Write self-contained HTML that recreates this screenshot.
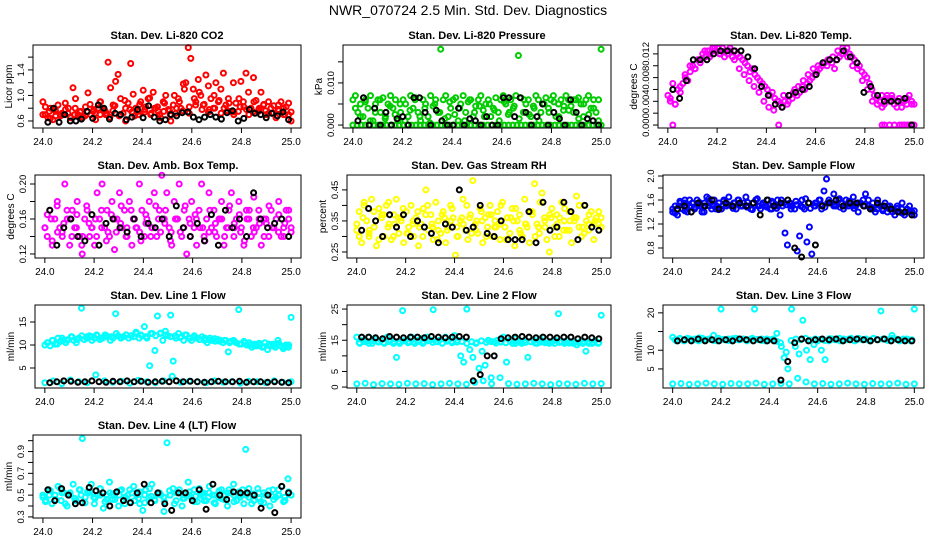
<!DOCTYPE html>
<html><head><meta charset="utf-8"><style>
body{margin:0;background:#fff}
svg{display:block;font-family:"Liberation Sans",Arial,sans-serif}
</style></head><body>
<svg id="chart" width="936" height="540" viewBox="0 0 936 540">
<text x="468" y="15" text-anchor="middle" font-size="14">NWR_070724  2.5 Min. Std. Dev. Diagnostics</text>
</svg>
<script>
const xTicks=[24.0,24.2,24.4,24.6,24.8,25.0];
const xTickLabels=["24.0","24.2","24.4","24.6","24.8","25.0"];

const p1A=[0.9,0.7,0.65,0.8,0.62,0.75,0.85,0.68,0.7,0.78,0.72,0.65,1.12,0.95,0.7,0.75,0.66,0.82,1.04,0.7,0.75,0.62,0.8,0.9,0.78,0.7,1.52,1.12,0.85,1.22,1.33,0.95,0.72,0.6,0.88,1.5,1.02,0.8,0.75,0.9,1.08,0.82,0.95,0.7,1.05,0.8,0.75,0.65,0.9,1.0,0.78,0.6,0.85,0.72,0.95,0.8,1.18,1.2,1.75,1.58,1.1,0.9,1.25,1.0,0.85,1.32,1.15,0.95,0.8,1.2,0.9,1.1,1.35,0.85,0.95,0.75,1.2,0.88,0.75,1.22,0.9,1.35,1.05,0.8,1.28,0.92,0.75,1.05,0.85,0.7,0.9,0.8,0.72,0.65,0.85,0.9,0.7,0.82,0.88,0.6];
const p1B=[0.7,0.75,0.68,0.72,0.8,0.7,0.66,0.74,0.78,0.7,0.72,0.76,0.68,0.8,0.74,0.7,0.78,0.72,0.82,0.75,0.7,0.8,0.76,0.72,0.85,0.78,0.74,0.8,0.72,0.76,0.7,0.82,0.78,0.74,0.8,0.76,0.72,0.78,0.7,0.74];
const p1C=[0.82,0.64,0.78,0.7,0.88,0.66,0.8,0.74,0.68,0.86,0.72,0.9,0.76,0.66,0.84,0.7,0.92,0.78,0.68,0.86,0.74,0.96,0.8,0.7,0.88,0.76,1.0,0.9,1.1,0.82,0.95,1.05,0.86,0.78,1.0,0.92,0.8,0.88,0.74,0.95,0.82,0.7,0.9,0.78,0.86,0.72,0.84,0.76,0.8,0.7];
const p1K=[0.58,0.8,0.58,0.7,0.6,0.6,0.63,0.75,0.64,0.85,0.8,0.63,0.72,0.7,0.62,0.66,0.78,0.65,0.84,0.66,0.6,0.62,0.7,0.68,0.73,0.74,0.66,0.62,0.66,0.7,0.66,0.63,0.73,0.76,0.6,0.64,0.78,0.72,0.7,0.65,0.72,0.68,0.74,0.62];

const p2A=[.006,.007,.003,.005,.002,.006,.004,.007,.001,.005,.006,.003,.0065,.002,.005,.007,.004,.006,.001,.003,.006,.005,.002,.007,.004,.0065,.003,.001,.006,.005,.002,.007,.0045,.006,.003,.018,.006,.007,.002,.004,.006,.0065,.001,.005,.007,.003,.0055,.006,.002,.0045,.006,.007,.0035,.005,.006,.002,.004,.0065,.003,.006,.007,.005,.0025,.006,.004,.007,.0165,.0065,.003,.005,.006,.002,.0045,.007,.006,.003,.005,.0065,.004,.006,.007,.002,.005,.006,.0035,.007,.006,.0045,.003,.006,.0065,.005,.002,.006,.007,.004,.006,.003,.006,.018];
const p2B=[0,0,0,0,0,0,0,0,0,0,0,0,0,0,0,0,0,0,0,0,0,0,0,0,0,0,0,0,0,0,0,0,0,0,0,0,0,0,0,0,0,0,0,0,0,0,0,0,0,0,0,0,0,0,0,0,0,0,0,0];
const p2C=[.004,.002,.0055,.001,.003,.006,.0015,.0045,.0025,.005,.001,.0035,.006,.002,.004,.0005,.005,.003,.0015,.0055,.0025,.004,.001,.006,.003,.0045,.002,.005,.0035,.001,.0055,.003,.0045,.0015,.006,.0025,.004,.001,.005,.003,.0055,.002,.0045,.0035,.006,.0015,.005,.0025,.004,.001];
const p2K=[.001,.0065,0,.004,0,.003,0,.0015,.002,0,.0065,.0065,.003,0,.0035,.001,0,0,.004,0,.0015,.001,0,.002,0,0,.0065,.0065,.002,.0065,.003,0,.002,.005,0,.003,.0015,0,.006,.003,0,.0015,.001,0];

const p3A=[.005,.0045,.007,.0035,.006,.0055,.007,.008,.0075,.009,.01,.0095,.011,.0105,.012,.0115,.0125,.012,.013,.0125,.013,.012,.013,.0125,.012,.013,.0115,.0125,.012,.0115,.011,.0105,.01,.009,.0095,.0085,.008,.0075,.007,.0065,.006,.005,.0055,.0045,.004,.0035,.003,.004,.0035,.005,.0045,.006,.005,.0055,.0065,.006,.007,.0075,.008,.0085,.009,.0095,.01,.0105,.01,.011,.0105,.0095,.011,.0115,.012,.0125,.013,.012,.0115,.011,.0105,.01,.009,.0085,.008,.007,.006,.005,.0045,.004,.005,.0035,.0045,.004,.005,.0035,.004,.0045,.003,.004,.0035,.005,.004,.0035];
const p3Bx=[24.02,24.45,24.87,24.88,24.9,24.92,24.94,24.95,24.96,24.97,24.98,24.99,25.0];
const p3B=[0,0,0,0,0,0,0,0,0,0,0,0,0];
const p3C=[.004,.0035,.0065,.0085,.01,.0095,.011,.0125,.0115,.013,.012,.0115,.0125,.011,.0095,.0085,.0075,.0065,.0055,.004,.003,.0025,.004,.005,.004,.0055,.0065,.0075,.0085,.0095,.01,.0105,.011,.0115,.0125,.013,.0115,.01,.0095,.0075,.006,.004,.0035,.003,.005,.0045,.003,.004,.0045,.0035];
const p3K=[.006,.0045,.0075,.011,.011,.011,.012,.0125,.0125,.0125,.0125,.0115,.0095,.0065,.005,.0035,.003,.005,.0055,.006,.0065,.0085,.0105,.011,.011,.0125,.0115,.0105,.0055,.0065,.005,.004,.004,.004,.0045,0];

const p4A=[.15,.14,.17,.13,.16,.18,.15,.14,.2,.16,.13,.17,.15,.18,.14,.12,.16,.17,.14,.15,.13,.19,.16,.2,.15,.17,.14,.18,.125,.16,.19,.15,.17,.14,.18,.13,.16,.15,.2,.17,.14,.16,.18,.15,.19,.14,.17,.21,.16,.19,.15,.13,.18,.16,.2,.14,.17,.12,.16,.18,.15,.13,.17,.2,.14,.16,.19,.15,.17,.14,.16,.18,.13,.15,.17,.19,.14,.16,.18,.15,.13,.17,.16,.14,.185,.15,.17,.13,.16,.155,.14,.17,.15,.16,.18,.14,.15,.17,.16,.145];
const p4B=[.15,.16,.145,.155,.16,.15,.14,.155,.16,.15,.145,.16,.155,.15,.16,.145,.155,.15,.16,.155,.145,.16,.15,.155,.16,.15,.145,.155,.16,.15,.155,.145,.16,.15,.155,.16,.15,.145,.155,.15];
const p4C=[.165,.135,.175,.145,.17,.14,.165,.13,.175,.15,.14,.17,.135,.165,.145,.175,.14,.17,.15,.135,.165,.14,.175,.145,.17,.135,.16,.145,.175,.14,.165,.15,.135,.17,.145,.16,.14,.175,.15,.165,.135,.17,.145,.16,.14,.175,.15,.165,.14,.17];
const p4K=[.17,.13,.15,.16,.14,.135,.165,.13,.155,.16,.15,.145,.16,.14,.155,.15,.16,.14,.175,.15,.14,.155,.135,.165,.13,.17,.15,.16,.14,.19,.16,.15,.155,.16,.14];

const p5A=[.32,.38,.28,.41,.35,.3,.42,.33,.27,.39,.36,.3,.4,.34,.29,.37,.42,.31,.35,.28,.38,.33,.4,.3,.36,.27,.34,.39,.45,.32,.37,.29,.41,.35,.31,.38,.28,.33,.4,.36,.24,.3,.35,.42,.32,.29,.37,.48,.34,.31,.39,.28,.36,.33,.4,.3,.35,.38,.29,.41,.33,.36,.31,.39,.27,.35,.37,.3,.42,.33,.28,.38,.47,.34,.31,.44,.36,.29,.25,.39,.33,.37,.3,.41,.35,.32,.38,.28,.36,.43,.33,.3,.4,.35,.32,.38,.29,.36,.34,.33];
const p5B=[.34,.36,.32,.35,.37,.33,.34,.36,.31,.35,.33,.37,.34,.32,.36,.35,.33,.34,.36,.32,.35,.37,.33,.34,.36,.35,.32,.34,.37,.33,.35,.36,.34,.32,.35,.36,.33,.34,.35,.36];
const p5C=[.3,.4,.31,.38,.29,.37,.41,.3,.36,.39,.31,.34,.38,.3,.4,.33,.29,.37,.32,.39,.3,.36,.4,.31,.35,.38,.3,.37,.33,.4,.29,.36,.39,.31,.34,.38,.3,.41,.33,.37,.3,.36,.39,.32,.35,.4,.31,.37,.34,.38];
const p5K=[.32,.39,.35,.3,.37,.33,.37,.3,.35,.33,.31,.28,.34,.33,.45,.32,.33,.4,.31,.3,.35,.29,.29,.29,.38,.28,.41,.32,.33,.41,.38,.29,.4,.33,.32];

const p6A=[1.4,1.5,1.35,1.55,1.45,1.6,1.4,1.5,1.55,1.45,1.6,1.5,1.4,1.55,1.65,1.5,1.45,1.6,1.5,1.55,1.45,1.6,1.5,1.65,1.5,1.55,1.45,1.6,1.5,1.55,1.65,1.5,1.45,1.55,1.6,1.5,1.45,1.55,1.5,1.6,1.45,1.55,1.5,1.6,1.35,1.5,1.05,0.85,1.55,1.5,1.45,0.75,1.0,1.6,1.45,0.9,1.15,0.7,1.5,1.55,1.6,1.45,1.75,1.95,1.6,1.55,1.7,1.5,1.6,1.55,1.45,1.6,1.5,1.55,1.65,1.5,1.4,1.55,1.6,1.7,1.5,1.45,1.55,1.4,1.6,1.5,1.45,1.55,1.4,1.5,1.45,1.35,1.5,1.4,1.55,1.35,1.45,1.5,1.4,1.35];
const p6B=[1.45,1.5,1.55,1.48,1.52,1.5,1.55,1.45,1.5,1.52,1.55,1.5,1.48,1.55,1.5,1.52,1.45,1.5,1.55,1.5,1.52,1.48,1.55,1.5,1.52,1.55,1.5,1.48,1.52,1.5,1.55,1.5,1.48,1.45,1.5,1.45,1.42,1.45,1.4,1.42];
const p6C=[1.38,1.58,1.42,1.6,1.48,1.56,1.4,1.62,1.5,1.44,1.58,1.52,1.46,1.6,1.5,1.56,1.44,1.62,1.52,1.48,1.58,1.46,1.6,1.52,1.45,1.58,1.5,1.62,1.46,1.55,1.6,1.48,1.56,1.52,1.62,1.5,1.58,1.46,1.55,1.5,1.6,1.45,1.52,1.42,1.5,1.4,1.46,1.38,1.44,1.4];
const p6K=[1.45,1.5,1.4,1.55,1.5,1.6,1.45,1.55,1.5,1.55,1.5,1.55,1.35,1.6,1.5,1.55,1.6,0.8,0.65,1.55,0.85,1.5,1.55,1.6,1.5,1.55,1.55,1.5,1.45,1.55,1.5,1.45,1.4,1.4,1.35];

const p7A=[10,10.5,9.8,11,10.2,11.5,10.8,11,10.5,11.2,11.8,11,10.5,11.5,18,11.2,11.8,12,11,11.5,12,11.2,11.5,12.2,11.8,11,11.5,16.8,12,11.5,11.8,12.2,11.5,12,11.8,12.5,11.5,12,14,11.5,5.5,12.5,8.8,16.3,12.5,11,13,12,16.5,6.5,11.5,12.5,11.8,11,12.2,11.5,11,12,11.5,11.2,11.8,11,10.5,11.5,11,10.8,11.2,11,10.5,11,8.5,10.8,11,10.5,17.7,10.2,10.8,10,10.5,9.5,10.2,9.8,10,9.5,10.5,9,9.8,10.2,9.5,11,9.8,9.2,10,9.5,16];
const p7B=[1.8,2.2,1.6,2.4,2,1.8,3.5,2.2,1.9,2.1,1.7,2.3,2,1.8,2.2,3.2,1.9,2.1,2,1.8,2.2,1.9,2,1.7,2.1,2,1.8,2.2,1.9,2];
const p7C=[10.5,11,10.2,11.5,11,11.8,11.2,12,11.5,11.8,12.2,11.5,12,11.8,12.5,11.6,12.2,12,12.8,12.2,11.8,12.5,12,12.6,12.2,11.8,12,11.6,12.2,11.5,11.8,11.2,11.5,11,11.4,10.8,11,10.5,10.8,10.2,10.5,10,9.8,10.4,9.6,10.2,9.8,10.4,9.6,10];
const p7K=[1.8,2,2.2,2.1,1.9,2,2.2,2,1.9,2.1,2,2.2,2,2.1,1.9,2,2.1,2,2.2,2,2.1,2,1.9,2,2.1,2,2,2.1,1.9,2,2,1.9,2,1.9,1.8];

const p8A=[16,14,15,14.5,16,14,15.5,14.5,15,14,16,15,14.5,9.5,14,24.5,15,14.5,16,14,15,15.5,14.5,16,15,24.8,14.5,15,14,16,15,14.5,16.5,15,10,8,25,12,9.5,14,6,11.5,7,15,3,14.5,15,14.5,16,8,15,14,15.5,14.5,14,15,9.5,14.5,15,14,15.5,14.5,15,14,14.5,15,23.5,14.5,14,15,14.5,14,13.5,14.5,14,11.5,14.5,14,15,14,23];
const p8B=[1,1.2,0.8,1.1,1,0.9,1.2,1,1.1,0.8,1,1.2,1,0.9,1.5,2,1,3,1.1,0.9,1,1.2,1,0.8,1.1,1,0.9,1.2,1,1.1];
const p8C=[14.2,14.6,14,14.8,14.4,14.2,14.6,14,14.5,14.8,14.2,14.4,14.6,14,14.8,14.3,14.5,14.1,14.7,14.2,14.4,14.6,14,14.5,14.2,14.8,14.3,14.6,14.1,14.4,14.2,14.7,14,14.5,14.3,14.6,14.1,14.4,14.2,14.5,14,14.3,14.6,14.1,14.4,14.2,14.5,14,14.3,14.2];
const p8K=[16,16,15.8,15.5,16.2,16,15.8,16,16,15.8,16.2,16,15.8,16,16.2,16,2,4,10,10,15.5,15.8,16,16.2,16,15.8,16,16,15.8,16,16,15.5,16,15.8,15.5];

const p9A=[13.5,12.5,13,12.5,13.2,12.8,13,12.5,13.2,12.8,13,14,12.5,21,12.8,13,12.5,13.2,12.8,13,12.5,13,21,12.8,13,12.5,12.8,13,14.5,12,8,5,21,11,9,18,10,7.5,11.5,12.5,10,7.5,12.5,13,12.8,12.5,13,12.8,13.2,12.5,13,12.8,13,12.5,13.2,12.8,20.5,13,12.8,14,13,12.5,13,12.8,12.5,21];
const p9B=[1,1.1,0.9,1,1.2,1,0.9,1.1,1,1,1.2,0.9,1,1.1,1,2.5,1.5,1,1.1,0.9,1,1.2,1,0.9,1.1,1,1,1.2,0.9,1];
const p9C=[12.8,13.2,12.6,13,12.8,13.3,12.7,13,12.6,13.2,12.9,12.6,13.1,12.8,13,12.7,13.2,12.9,12.6,13,12.8,12.4,11,9.5,12.6,13,12.8,13.2,12.7,13,12.9,12.6,13.1,12.8,13.2,12.7,13,12.6,13.2,12.9,12.7,13.1,12.8,13,12.6,13.2,12.9,12.7,13,12.8];
const p9K=[12.5,12.8,12.5,13,12.5,12.8,12.5,12.8,12.5,13,12.8,12.5,12.8,12.5,12.5,2,7,12,13,12.5,12.8,13,12.8,13,12.5,12.8,13,12.8,12.5,12.8,13,12.5,12.8,12.5,12.5];

const p10A=[0.5,0.45,0.55,0.42,0.5,0.58,0.45,0.52,0.4,0.5,0.6,0.45,0.55,1.02,0.48,0.52,0.6,0.42,0.5,0.56,0.38,0.5,0.62,0.46,0.52,0.4,0.55,0.48,0.5,0.44,0.58,0.5,0.42,0.36,0.55,0.48,0.6,0.45,0.52,0.5,0.35,0.98,0.5,0.56,0.45,0.52,0.4,0.5,0.62,0.48,0.55,0.44,0.5,0.52,0.45,0.58,0.5,0.42,0.48,0.55,0.5,0.4,0.52,0.6,0.45,0.5,0.55,0.92,0.48,0.42,0.5,0.56,0.44,0.52,0.5,0.4,0.55,0.48,0.5,0.58,0.45,0.65,0.5];
const p10B=[0.48,0.5,0.46,0.52,0.5,0.47,0.5,0.53,0.48,0.5,0.46,0.51,0.5,0.48,0.52,0.47,0.5,0.49,0.51,0.48,0.5,0.52,0.47,0.5,0.49,0.51,0.48,0.5,0.47,0.52,0.5,0.48,0.5,0.51,0.47,0.5,0.49,0.5,0.48,0.5];
const p10C=[0.44,0.54,0.46,0.56,0.42,0.52,0.45,0.55,0.43,0.53,0.47,0.56,0.44,0.52,0.46,0.54,0.42,0.55,0.45,0.53,0.43,0.56,0.46,0.52,0.44,0.54,0.42,0.55,0.47,0.53,0.44,0.56,0.45,0.52,0.43,0.54,0.46,0.55,0.44,0.53,0.42,0.56,0.45,0.52,0.43,0.54,0.46,0.55,0.44,0.53];
const p10K=[0.55,0.45,0.56,0.5,0.42,0.43,0.57,0.54,0.52,0.4,0.53,0.45,0.43,0.52,0.6,0.43,0.52,0.42,0.36,0.52,0.52,0.45,0.55,0.37,0.6,0.5,0.46,0.53,0.52,0.52,0.5,0.38,0.5,0.34,0.58,0.52];

const panels=[
 {name:"co2",title:"Stan. Dev. Li-820 CO2",ylab:"Licor ppm",col:"#ff0000",L:33,T:45,W:268,y0:0.49,y1:1.79,ticks:[0.6,0.8,1.0,1.2,1.4,1.6],labs:[[0.6,"0.6"],[1.0,"1.0"],[1.4,"1.4"]],A:p1A,B:p1B,C:p1C,K:p1K},
 {name:"pressure",title:"Stan. Dev. Li-820 Pressure",ylab:"kPa",col:"#00cc00",L:343,T:45,W:268,y0:-0.0007,y1:0.019,ticks:[0,0.005,0.010,0.015],labs:[[0,"0.000"],[0.010,"0.010"]],A:p2A,B:p2B,C:p2C,K:p2K},
 {name:"li820-temp",title:"Stan. Dev. Li-820 Temp.",ylab:"degrees C",col:"#ff00ff",L:658,T:45,W:266,y0:-0.0005,y1:0.0135,ticks:[0,0.002,0.004,0.006,0.008,0.010,0.012],labs:[[0,"0.000"],[0.004,"0.004"],[0.008,"0.008"],[0.012,"0.012"]],A:p3A,B:p3B,Bx:p3Bx,C:p3C,K:p3K},
 {name:"amb-box-temp",title:"Stan. Dev. Amb. Box Temp.",ylab:"degrees C",col:"#ff00ff",L:35,T:175,W:266,y0:0.1154,y1:0.2103,ticks:[0.12,0.14,0.16,0.18,0.20],labs:[[0.12,"0.12"],[0.16,"0.16"],[0.20,"0.20"]],A:p4A,B:p4B,C:p4C,K:p4K},
 {name:"gas-stream-rh",title:"Stan. Dev. Gas Stream RH",ylab:"percent",col:"#ffff00",L:347,T:175,W:264,y0:0.2306,y1:0.498,ticks:[0.25,0.30,0.35,0.40,0.45],labs:[[0.25,"0.25"],[0.35,"0.35"],[0.45,"0.45"]],A:p5A,B:p5B,C:p5C,K:p5K},
 {name:"sample-flow",title:"Stan. Dev. Sample Flow",ylab:"ml/min",col:"#0000ff",L:663,T:175,W:261,y0:0.633,y1:2.017,ticks:[0.8,1.0,1.2,1.4,1.6,1.8,2.0],labs:[[0.8,"0.8"],[1.2,"1.2"],[1.6,"1.6"],[2.0,"2.0"]],A:p6A,B:p6B,C:p6C,K:p6K},
 {name:"line1-flow",title:"Stan. Dev. Line 1 Flow",ylab:"ml/min",col:"#00ffff",L:35,T:305,W:266,y0:0.65,y1:18.7,ticks:[5,10,15],labs:[[5,"5"],[10,"10"],[15,"15"]],A:p7A,B:p7B,C:p7C,K:p7K},
 {name:"line2-flow",title:"Stan. Dev. Line 2 Flow",ylab:"ml/min",col:"#00ffff",L:347,T:305,W:264,y0:-0.3,y1:26.3,ticks:[0,5,10,15,20,25],labs:[[0,"0"],[5,"5"],[15,"15"],[25,"25"]],A:p8A,B:p8B,C:p8C,K:p8K},
 {name:"line3-flow",title:"Stan. Dev. Line 3 Flow",ylab:"ml/min",col:"#00ffff",L:663,T:305,W:261,y0:-0.1,y1:22.1,ticks:[5,10,15,20],labs:[[5,"5"],[10,"10"],[20,"20"]],A:p9A,B:p9B,C:p9C,K:p9K},
 {name:"line4-flow",title:"Stan. Dev. Line 4 (LT) Flow",ylab:"ml/min",col:"#00ffff",L:33,T:435,W:268,y0:0.29,y1:1.052,ticks:[0.3,0.4,0.5,0.6,0.7,0.8,0.9,1.0],labs:[[0.3,"0.3"],[0.5,"0.5"],[0.7,"0.7"],[0.9,"0.9"]],A:p10A,B:p10B,C:p10C,K:p10K}
];
const NS="http://www.w3.org/2000/svg";
const svg=document.getElementById("chart");
function mk(tag,attrs,parent){const e=document.createElementNS(NS,tag);for(const k in attrs)e.setAttribute(k,attrs[k]);parent.appendChild(e);return e;}
const H=83;
panels.forEach(p=>{
 const g=mk("g",{},svg);
 
 
 const xs=v=>p.L+(v-23.96)/1.08*p.W;
 const ys=v=>p.T+H-(v-p.y0)/(p.y1-p.y0)*H;
 const t=mk("text",{x:p.L+p.W/2,y:p.T-6,"text-anchor":"middle","font-size":"11","font-weight":"bold"},g);
 t.textContent=p.title;
 
 
 const pts=mk("g",{fill:"none","stroke-width":"2"},g);
 
 
 const draw=(arr,xarr,color,x0,x1)=>{arr.forEach((v,i)=>{
   const xv=xarr?xarr[i]:x0+(x1-x0)*i/(arr.length-1);
   const c=mk("circle",{cx:xs(xv).toFixed(1),cy:ys(v).toFixed(1),r:"2.5",stroke:color},pts);
   
   
 });};
 draw(p.B,p.Bx,p.col,24.0,25.0);
 draw(p.C,null,p.col,24.01,24.99);
 draw(p.A,null,p.col,24.0,25.0);
 draw(p.K,null,"#000",24.02,24.99);
 const box=mk("rect",{x:p.L,y:p.T,width:p.W,height:H,fill:"none",stroke:"#000","stroke-width":"1"},g);
 
 
 const B=p.T+H;
 xTicks.forEach((v,i)=>{
  const x=xs(v);
  mk("line",{x1:x,x2:x,y1:B,y2:B+5,stroke:"#000"},g);
  const tl=mk("text",{x:x,y:B+17,"text-anchor":"middle","font-size":"10"},g);
  tl.textContent=xTickLabels[i];
  
  
 });
 p.ticks.forEach(v=>{const y=ys(v);mk("line",{x1:p.L-5,x2:p.L,y1:y,y2:y,stroke:"#000"},g);});
 p.labs.forEach(([v,s])=>{
  const y=ys(v);
  const tl=mk("text",{x:0,y:0,"text-anchor":"middle","font-size":"9.5",transform:`translate(${p.L-9},${y}) rotate(-90)`},g);
  tl.textContent=s;
  
  
 });
 const yl=mk("text",{x:0,y:0,"text-anchor":"middle","font-size":"10",transform:`translate(${p.L-21},${p.T+H/2}) rotate(-90)`},g);
 yl.textContent=p.ylab;
 
 
});
</script>
</body></html>
